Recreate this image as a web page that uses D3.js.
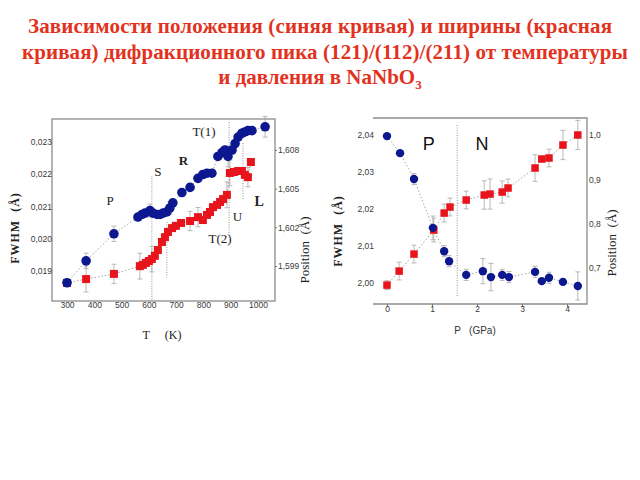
<!DOCTYPE html>
<html><head><meta charset="utf-8">
<script src="https://cdn.jsdelivr.net/npm/d3@7"></script>
<style>body{margin:0;background:#fff}svg{display:block}</style>
</head><body>
<svg id="c" width="640" height="480"></svg>
<script>
// ---------- Title ----------
const titleLines = ["Зависимости положения (синяя кривая) и ширины (красная",
                    "кривая) дифракционного пика (121)/(112)/(211) от температуры",
                    "и давления в NaNbO"];
const titleSub = "3";

// ---------- Left chart: temperature ----------
const tBlue = [300,370,472,560,575,586,604,615,630,641,652,666,677,688,721,751,780,798,813,831,853,868,879,890,905,916,927,941,952,963,978,1026];
const posBlue = [1.5977,1.5994,1.6015,1.6028,1.6030,1.6031,1.6033,1.6031,1.6030,1.6030,1.6031,1.6032,1.6035,1.6039,1.6047,1.6051,1.6058,1.6061,1.6062,1.6062,1.6075,1.6078,1.6080,1.6075,1.6080,1.6085,1.6090,1.6093,1.6094,1.6095,1.6095,1.6098];
const errBlueT = [0,0.0006,0.0006,0,0,0,0.0005,0,0,0,0,0,0.0005,0,0.0003,0,0,0.0003,0,0,0,0,0,0.0008,0,0,0,0,0,0,0,0.0008];

const tRed = [300,370,472,567,578,589,600,611,622,633,648,659,670,685,699,718,751,780,798,813,824,835,850,861,872,886,897,912,927,941,952,963,974];
const fwhmRed = [0.01863,0.01875,0.01891,0.01915,0.01919,0.01925,0.01931,0.01937,0.01947,0.01965,0.0199,0.02005,0.02021,0.02033,0.0204,0.02049,0.02055,0.02067,0.02058,0.02074,0.02083,0.02098,0.02105,0.02114,0.02123,0.02136,0.02204,0.02207,0.0221,0.0221,0.02198,0.02191,0.02238];
const errRedT = [0,0.0004,0.0003,0.0004,0,0,0,0.0004,0,0,0,0,0,0,0,0,0.0003,0.0003,0,0,0,0,0,0,0,0.0004,0.0004,0,0,0,0,0.0003,0];

const tTicks = [300,400,500,600,700,800,900,1000];
const fwhmTicksT = [0.019,0.020,0.021,0.022,0.023];
const posTicksT = [1.599,1.602,1.605,1.608];

const phaseLabelsT = ["P","S","R","T(1)","L","U","T(2)"];
const phaseLabelT_T = [458,633,727,802,1004,925,861];
const phaseLabelT_F = [0.02105,0.02195,0.02229,0.02319,0.02103,0.02055,0.01987];
const phaseBoundsT = [611,666,894,945];
const phaseBoundTop = [0.02195,0.02052,0.02362,0.02297];
const phaseBoundBot = [0.01807,0.01880,0.02010,0.02120];

// ---------- Right chart: pressure ----------
const pBlue = [0,0.29,0.6,1.02,1.27,1.38,1.76,2.13,2.31,2.56,2.71,3.29,3.44,3.6,3.91,4.24];
const dBlue = [2.0397,2.0351,2.0281,2.0149,2.0086,2.0059,2.0022,2.0032,2.0016,2.0022,2.0016,2.0030,2.0005,2.0014,2.0003,1.9992];
const errBlueP = [0,0,0.0015,0.0032,0.0015,0.0015,0.0015,0.0034,0.0037,0.0015,0.0015,0.0015,0,0.0015,0,0.0038];

const pRed = [0,0.27,0.6,1.04,1.27,1.4,1.76,2.16,2.29,2.56,2.69,3.29,3.44,3.6,3.91,4.24];
const wRed = [0.6614,0.693,0.7314,0.7856,0.8239,0.8375,0.8533,0.8646,0.8668,0.8713,0.8804,0.9255,0.9458,0.9481,0.9774,1.0];
const errRedP = [0.01,0.02,0.02,0.027,0.02,0.02,0.02,0.032,0.034,0.025,0.02,0.03,0,0.02,0.033,0.033];

const pTicks = [0,1,2,3,4];
const leftTicksP = [2.00,2.01,2.02,2.03,2.04];
const rightTicksP = [0.7,0.8,0.9,1.0];
const phaseLabelsP = ["P","N"];
const phaseLabelP_P = [0.93,2.11];
const phaseBoundP = 1.56;

// ---------- Drawing ----------
const svg = d3.select("#c");
const BLUE = "#0c1790", RED = "#e8141c", GRAY = "#8c8c8c";
const comma = f => v => d3.format(f)(v).replace(".", ",");

// Title
const title = svg.append("g").attr("fill", "#e2321e")
  .attr("font-family", "'Liberation Serif','Times New Roman',serif")
  .attr("font-weight", "bold").attr("font-size", 21).attr("text-anchor", "middle");
title.append("text").attr("x", 320).attr("y", 33).attr("textLength", 584).text(titleLines[0]);
title.append("text").attr("x", 325).attr("y", 59).attr("textLength", 606).text(titleLines[1]);
const t3 = title.append("text").attr("x", 320).attr("y", 84);
t3.append("tspan").text(titleLines[2]);
t3.append("tspan").attr("font-size", 13).attr("dy", 5).text(titleSub);

function styleAxis(g) {
  g.select(".domain").remove();
  g.selectAll("text").attr("fill", "#3a3a3a")
    .attr("font-family", "'Liberation Sans',Arial,sans-serif").attr("font-size", 8.5);
  g.selectAll("line").attr("stroke", "#777");
}

function errBars(g, xs, ys, es, xS, yS) {
  const idx = d3.range(xs.length).filter(i => es[i] > 0);
  const eg = g.append("g").attr("stroke", "#a8a8a8").attr("stroke-width", 0.8);
  eg.selectAll("line.v").data(idx).join("line")
    .attr("x1", i => xS(xs[i])).attr("x2", i => xS(xs[i]))
    .attr("y1", i => yS(ys[i] - es[i])).attr("y2", i => yS(ys[i] + es[i]));
  eg.selectAll("line.t").data(idx).join("line")
    .attr("x1", i => xS(xs[i]) - 2.5).attr("x2", i => xS(xs[i]) + 2.5)
    .attr("y1", i => yS(ys[i] + es[i])).attr("y2", i => yS(ys[i] + es[i]));
  eg.selectAll("line.b").data(idx).join("line")
    .attr("x1", i => xS(xs[i]) - 2.5).attr("x2", i => xS(xs[i]) + 2.5)
    .attr("y1", i => yS(ys[i] - es[i])).attr("y2", i => yS(ys[i] - es[i]));
}

function dotted(g, xs, ys, xS, yS) {
  g.append("path").datum(d3.range(xs.length))
    .attr("d", d3.line().x(i => xS(xs[i])).y(i => yS(ys[i])))
    .attr("fill", "none").attr("stroke", "#9a9a9a").attr("stroke-width", 0.9)
    .attr("stroke-dasharray", "1.5,2");
}

function squares(g, xs, ys, xS, yS, s) {
  g.append("g").selectAll("rect").data(d3.range(xs.length)).join("rect")
    .attr("x", i => xS(xs[i]) - s / 2).attr("y", i => yS(ys[i]) - s / 2)
    .attr("width", s).attr("height", s).attr("fill", RED);
}
function circles(g, xs, ys, xS, yS, r) {
  g.append("g").selectAll("circle").data(d3.range(xs.length)).join("circle")
    .attr("cx", i => xS(xs[i])).attr("cy", i => yS(ys[i])).attr("r", r).attr("fill", BLUE);
}

// ===== Left chart =====
const xL = d3.scaleLinear().domain([245, 1062.3]).range([52, 275]);
const yLf = d3.scaleLinear().domain([0.0180698, 0.0237132]).range([301, 119]);
const yLp = d3.scaleLinear().domain([1.596285, 1.610405]).range([301, 119]);
const L = svg.append("g");

L.append("g").selectAll("line").data(d3.range(phaseBoundsT.length)).join("line")
  .attr("x1", i => xL(phaseBoundsT[i])).attr("x2", i => xL(phaseBoundsT[i]))
  .attr("y1", i => yLf(phaseBoundTop[i])).attr("y2", i => yLf(phaseBoundBot[i]))
  .attr("stroke", "#777").attr("stroke-width", 0.8).attr("stroke-dasharray", "1,1.5");

dotted(L, tRed, fwhmRed, xL, yLf);
dotted(L, tBlue, posBlue, xL, yLp);
errBars(L, tRed, fwhmRed, errRedT, xL, yLf);
errBars(L, tBlue, posBlue, errBlueT, xL, yLp);
squares(L, tRed, fwhmRed, xL, yLf, 8);
circles(L, tBlue, posBlue, xL, yLp, 4.8);

L.append("rect").attr("x", 52).attr("y", 119).attr("width", 223).attr("height", 182)
  .attr("fill", "none").attr("stroke", GRAY).attr("stroke-width", 1.3);

L.append("g").attr("transform", "translate(0,301)")
  .call(d3.axisBottom(xL).tickValues(tTicks).tickSize(0).tickPadding(1).tickFormat(d3.format("d")))
  .call(styleAxis);
L.append("g").attr("transform", "translate(53,0)")
  .call(d3.axisLeft(yLf).tickValues(fwhmTicksT).tickSize(0).tickPadding(1).tickFormat(comma(".3f")))
  .call(styleAxis);
L.append("g").attr("transform", "translate(275,0)")
  .call(d3.axisRight(yLp).tickValues(posTicksT).tickSize(2).tickPadding(1).tickFormat(comma(".3f")))
  .call(styleAxis);

L.append("g").attr("font-family", "'Liberation Serif','Times New Roman',serif").attr("font-size", 13)
  .attr("text-anchor", "middle").attr("fill", "#222")
  .selectAll("text").data(d3.range(phaseLabelsT.length)).join("text")
  .attr("x", i => xL(phaseLabelT_T[i])).attr("y", i => yLf(phaseLabelT_F[i]))
  .attr("font-weight", i => phaseLabelsT[i] === "L" || phaseLabelsT[i] === "R" ? "bold" : "normal")
  .attr("font-size", i => phaseLabelsT[i] === "L" ? 14 : 13)
  .text(i => phaseLabelsT[i]);

svg.append("text").attr("transform", "translate(19,228) rotate(-90)")
  .attr("text-anchor", "middle").attr("font-family", "'Liberation Serif',serif")
  .attr("font-size", 12).attr("font-weight", "bold").attr("fill", "#222")
  .attr("letter-spacing", 1).style("white-space", "pre").text("FWHM  (Å)");
svg.append("text").attr("transform", "translate(309,250) rotate(-90)")
  .attr("text-anchor", "middle").attr("font-family", "'Liberation Serif',serif")
  .attr("font-size", 13).attr("fill", "#222").style("white-space", "pre").text("Position  (Å)");
svg.append("text").attr("x", 162).attr("y", 339)
  .attr("text-anchor", "middle").attr("font-family", "'Liberation Serif',serif")
  .attr("font-size", 12).attr("fill", "#222").style("white-space", "pre").text("T     (K)");

// ===== Right chart =====
const xR = d3.scaleLinear().domain([-0.3111, 4.4444]).range([373, 587]);
const yRl = d3.scaleLinear().domain([1.994324, 2.044595]).range([304, 118]);
const yRr = d3.scaleLinear().domain([0.61878, 1.03835]).range([304, 118]);
const R = svg.append("g");

R.append("line").attr("x1", xR(phaseBoundP)).attr("x2", xR(phaseBoundP))
  .attr("y1", 125).attr("y2", 296)
  .attr("stroke", "#777").attr("stroke-width", 0.8).attr("stroke-dasharray", "1,1.5");

dotted(R, pRed, wRed, xR, yRr);
dotted(R, pBlue, dBlue, xR, yRl);
errBars(R, pRed, wRed, errRedP, xR, yRr);
errBars(R, pBlue, dBlue, errBlueP, xR, yRl);
squares(R, pRed, wRed, xR, yRr, 7.5);
circles(R, pBlue, dBlue, xR, yRl, 4.2);

R.append("path").attr("d", "M373,118H587V304H373").attr("fill", "none")
  .attr("stroke", GRAY).attr("stroke-width", 1.3);

R.append("g").attr("transform", "translate(0,304)")
  .call(d3.axisBottom(xR).tickValues(pTicks).tickSize(3).tickPadding(-1).tickFormat(d3.format("d")))
  .call(styleAxis);
R.append("g").attr("transform", "translate(376,0)")
  .call(d3.axisLeft(yRl).tickValues(leftTicksP).tickSize(0).tickPadding(2).tickFormat(comma(".2f")))
  .call(styleAxis);
R.append("g").attr("transform", "translate(587,0)")
  .call(d3.axisRight(yRr).tickValues(rightTicksP).tickSize(0).tickPadding(2).tickFormat(comma(".1f")))
  .call(styleAxis);

R.append("g").attr("font-family", "'Liberation Sans',Arial,sans-serif").attr("font-size", 18)
  .attr("text-anchor", "middle").attr("fill", "#111")
  .selectAll("text").data(d3.range(phaseLabelsP.length)).join("text")
  .attr("x", i => xR(phaseLabelP_P[i])).attr("y", 150).text(i => phaseLabelsP[i]);

svg.append("text").attr("transform", "translate(342,231) rotate(-90)")
  .attr("text-anchor", "middle").attr("font-family", "'Liberation Serif',serif")
  .attr("font-size", 12).attr("font-weight", "bold").attr("fill", "#222")
  .attr("letter-spacing", 1).style("white-space", "pre").text("FWHM  (Å)");
svg.append("text").attr("transform", "translate(616,243) rotate(-90)")
  .attr("text-anchor", "middle").attr("font-family", "'Liberation Serif',serif")
  .attr("font-size", 13).attr("fill", "#222").style("white-space", "pre").text("Position  (Å)");
svg.append("text").attr("x", 475).attr("y", 334)
  .attr("text-anchor", "middle").attr("font-family", "'Liberation Sans',Arial,sans-serif")
  .attr("font-size", 10).attr("fill", "#333").style("white-space", "pre").text("P   (GPa)");
</script>
</body></html>
